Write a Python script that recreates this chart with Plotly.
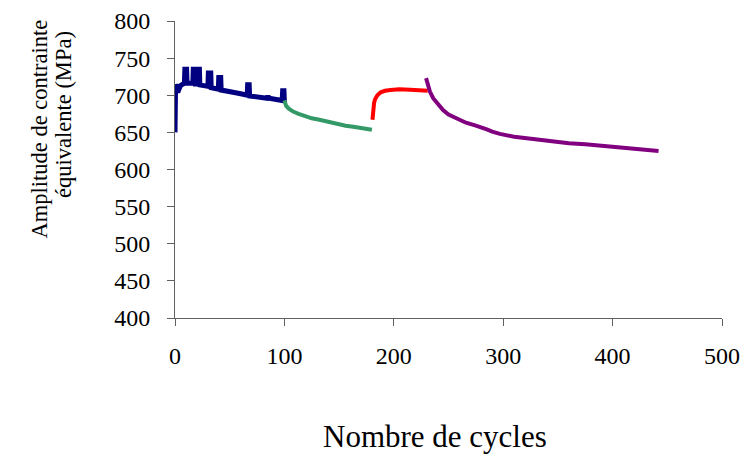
import plotly.graph_objects as go

# Segment 1 (navy)
blue_x = [0, 0.5, 1.5, 2.5, 3.5, 5, 7, 8.6, 9.0, 10.6, 11.0, 13, 16.3, 16.7, 18.3, 18.7, 20.3, 20.7, 22.3, 22.7, 26,
          30.1, 30.5, 32.7, 33.1, 36, 39.6, 40.0, 41.8, 42.2, 47, 53, 60, 66.0, 66.4, 67.8, 68.2, 75, 80,
          84, 85, 86, 90, 94, 98.0, 98.4, 99.6, 100]
blue_y = [650, 714, 712, 704, 708, 713, 715, 716, 735, 735, 716, 716, 716, 735, 735, 715, 715, 735, 735, 714, 713,
          712, 730, 730, 710, 709, 708, 724, 724, 707, 705, 704, 702, 700, 714, 714, 699, 698, 697,
          696, 699, 696, 695, 694, 693, 706, 706, 691]

# Segment 2 (green)
green_x = [100, 101.5, 104, 108, 113, 118, 125, 132, 140, 148, 156, 163, 172, 180]
green_y = [693, 686, 682, 678, 675, 672, 669, 667, 664, 661.5, 659, 657.5, 655, 653.5]

# Segment 3 (red)
red_x = [180.5, 181, 182, 183, 185, 188, 192, 197, 205, 215, 225, 231]
red_y = [667, 680, 690, 695, 700, 704, 706, 707, 708, 707.5, 707, 706]

# Segment 4 (purple)
purple_x = [229.5, 231, 233, 236, 240, 245, 250, 258, 266, 275, 279, 285, 290, 297, 310, 327, 345, 360,
            375, 390, 405, 420, 435, 442]
purple_y = [723, 714, 705, 696, 689, 680, 674, 668, 663, 659, 657.5, 654, 651, 648, 644, 641, 638, 635.5,
            634, 632, 630.5, 628.5, 627, 625]

x_ticks = [0, 100, 200, 300, 400, 500]
y_ticks = [400, 450, 500, 550, 600, 650, 700, 750, 800]

FONT = "Liberation Serif"

fig = go.Figure()
for xs, ys, col, w in [(blue_x, blue_y, "#000080", 5), (green_x, green_y, "#339966", 4),
                       (red_x, red_y, "#FF0000", 4), (purple_x, purple_y, "#800080", 4)]:
    fig.add_trace(go.Scatter(x=xs, y=ys, mode="lines",
                             line=dict(color=col, width=w), hoverinfo="skip"))

axis_col = "#606060"
fig.update_layout(
    width=742, height=456,
    margin=dict(l=175, r=19.5, t=21, b=137.5, autoexpand=False),
    paper_bgcolor="white", plot_bgcolor="white",
    showlegend=False,
    font=dict(family=FONT, size=24, color="black"),
    xaxis=dict(range=[0, 500], tickvals=x_ticks, showline=True, linecolor=axis_col, linewidth=1,
               ticks="outside", ticklen=7, tickcolor=axis_col, showgrid=False, zeroline=False,
               automargin=False,
               ticklabelstandoff=9, tickfont=dict(family=FONT, size=24, color="black")),
    yaxis=dict(range=[400, 800], tickvals=y_ticks, showline=True, linecolor=axis_col, linewidth=1,
               ticks="outside", ticklen=7, tickcolor=axis_col, showgrid=False, zeroline=False,
               automargin=False,
               ticklabelstandoff=12, tickfont=dict(family=FONT, size=24, color="black")),
    annotations=[
        dict(text="Nombre de cycles", xref="paper", yref="paper",
             x=(435 - 175) / 547.5, y=(318.5 - 437) / 297.5,
             xanchor="center", yanchor="middle", showarrow=False,
             font=dict(family=FONT, size=31, color="black")),
        dict(text="Amplitude de contrainte", xref="paper", yref="paper",
             x=(39 - 175) / 547.5, y=(318.5 - 129.5) / 297.5, textangle=-90,
             xanchor="center", yanchor="middle", showarrow=False,
             font=dict(family=FONT, size=22.5, color="black")),
        dict(text="équivalente (MPa)", xref="paper", yref="paper",
             x=(64 - 175) / 547.5, y=(318.5 - 115) / 297.5, textangle=-90,
             xanchor="center", yanchor="middle", showarrow=False,
             font=dict(family=FONT, size=22.5, color="black")),
    ],
)

fig.write_html("out.html", config={"displayModeBar": False},
               post_script="document.body.style.margin='0';document.body.style.overflow='hidden';")
